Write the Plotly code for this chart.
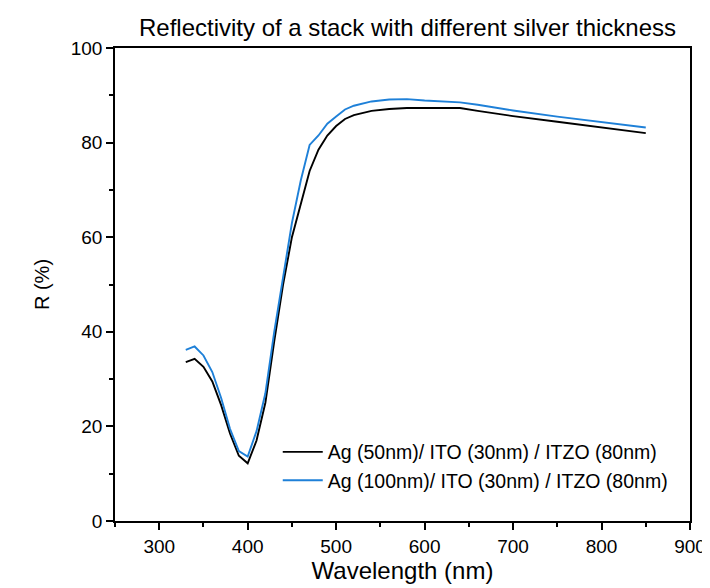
import plotly.graph_objects as go

wavelength = [330, 340, 350, 360, 370, 380, 390, 400, 410, 420, 430, 440, 450, 460, 470, 480, 490, 500,
              510, 520, 540, 560, 580, 600, 620, 640, 660, 700, 750, 800, 850]
r_50nm = [33.6, 34.3, 32.6, 29.5, 24.5, 18.5, 13.8, 12.2, 17.0, 25.0, 38.0, 50.0, 60.0, 67.0, 74.0, 78.5, 81.5, 83.5,
          85.0, 85.8, 86.7, 87.1, 87.3, 87.3, 87.3, 87.3, 86.7, 85.6, 84.4, 83.2, 82.0]
r_100nm = [36.2, 36.9, 35.0, 31.5, 26.0, 19.5, 14.8, 13.6, 19.0, 27.0, 40.0, 52.0, 63.0, 72.0, 79.5, 81.5, 84.0, 85.5,
           87.0, 87.8, 88.7, 89.1, 89.2, 88.9, 88.7, 88.5, 88.0, 86.8, 85.5, 84.3, 83.2]

names = ["Ag (50nm)/ ITO (30nm) / ITZO (80nm)", "Ag (100nm)/ ITO (30nm) / ITZO (80nm)"]
colors = ["#000000", "#1e80d8"]

fig = go.Figure()
for ys, name, c in zip([r_50nm, r_100nm], names, colors):
    fig.add_trace(go.Scatter(x=wavelength, y=ys, mode="lines", name=name,
                             line=dict(color=c, width=1.9)))

font_family = "Liberation Sans, Arial, sans-serif"
axis_common = dict(showline=True, linecolor="black", linewidth=1.5, mirror=True,
                   showgrid=False, zeroline=False, ticks="outside", ticklen=7,
                   tickwidth=1.5, tickcolor="black",
                   tickfont=dict(family=font_family, size=19, color="black"))

fig.update_layout(
    width=710, height=588,
    paper_bgcolor="white", plot_bgcolor="white",
    margin=dict(l=107, r=18, t=40, b=75),
    title=dict(text="Reflectivity of a stack with different silver thickness",
               x=(107 + 692) / 2 / 710, xanchor="center", y=0.966, yanchor="middle",
               font=dict(family=font_family, size=24, color="black")),
    xaxis=dict(range=[250, 900], tickvals=[300, 400, 500, 600, 700, 800, 900],
               minor=dict(tickvals=[250, 350, 450, 550, 650, 750, 850], ticks="outside",
                          ticklen=4, tickwidth=1.5, tickcolor="black"),
               title=dict(text="Wavelength (nm)", standoff=6,
                          font=dict(family=font_family, size=24, color="black")),
               **axis_common),
    yaxis=dict(range=[0, 100], tickvals=[0, 20, 40, 60, 80, 100],
               minor=dict(tickvals=[10, 30, 50, 70, 90], ticks="outside",
                          ticklen=4, tickwidth=1.5, tickcolor="black"),
               title=dict(text="R (%)", standoff=16,
                          font=dict(family=font_family, size=20, color="black")),
               **axis_common),
    legend=dict(x=0.97, xanchor="right", y=0.045, yanchor="bottom",
                bgcolor="rgba(0,0,0,0)", borderwidth=0,
                font=dict(family=font_family, size=19.5, color="black"),
                tracegroupgap=0, itemwidth=40),
    showlegend=True,
)

fig.write_html("out.html")
